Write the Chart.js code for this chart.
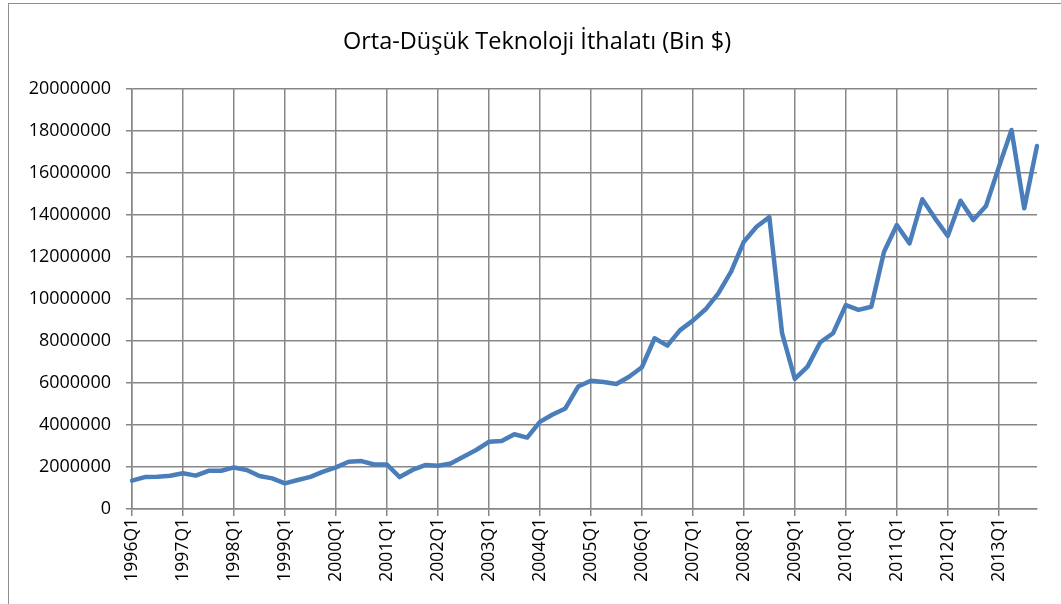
<!DOCTYPE html>
<html>
<head>
<meta charset="utf-8">
<script src="https://cdn.jsdelivr.net/npm/chart.js@4/dist/chart.umd.min.js"></script>
<style>
  html, body { margin: 0; padding: 0; background: #fff; }
  #wrap { position: relative; width: 1061px; height: 604px; overflow: hidden; }
  #frame { position: absolute; left: 8px; top: 3px; width: 1200px; height: 700px; border: 1px solid #8e8e8e; box-sizing: border-box; }
  canvas { position: absolute; left: 0; top: 0; }
</style>
</head>
<body>
<div id="wrap">
  <div id="frame"></div>
  <canvas id="c" width="1061" height="604"></canvas>
</div>
<script>
const years = [1996,1997,1998,1999,2000,2001,2002,2003,2004,2005,2006,2007,2008,2009,2010,2011,2012,2013];
const quarters = ['Q1','Q2','Q3','Q4'];
const categories = [];
years.forEach(y => quarters.forEach(q => categories.push(y + q)));

const imports = [
  1350000, 1520000, 1540000, 1580000,
  1700000, 1590000, 1820000, 1820000,
  1980000, 1860000, 1570000, 1460000,
  1220000, 1380000, 1530000, 1780000,
  1980000, 2250000, 2280000, 2120000,
  2120000, 1520000, 1860000, 2090000,
  2060000, 2170000, 2490000, 2810000,
  3200000, 3240000, 3560000, 3400000,
  4150000, 4500000, 4790000, 5830000,
  6110000, 6050000, 5950000, 6300000,
  6750000, 8130000, 7780000, 8520000,
  8970000, 9510000, 10270000, 11300000,
  12730000, 13440000, 13900000, 8370000,
  6200000, 6780000, 7940000, 8370000,
  9710000, 9480000, 9630000, 12250000,
  13520000, 12650000, 14750000, 13840000,
  13000000, 14680000, 13760000, 14430000,
  16270000, 18050000, 14320000, 17290000
];

const yTicks = [0,2000000,4000000,6000000,8000000,10000000,12000000,14000000,16000000,18000000,20000000];
const titleText = 'Orta-Düşük Teknoloji İthalatı (Bin $)';

const gridGray = '#878787';
const FONT = "'Open Sans', 'Liberation Sans', sans-serif";

const centeredTitle = {
  id: 'centeredTitle',
  afterDraw(chart, args, opts) {
    const ctx = chart.ctx;
    ctx.save();
    ctx.font = '23.5px ' + FONT;
    ctx.fillStyle = '#000';
    ctx.textAlign = 'center';
    ctx.textBaseline = 'middle';
    ctx.fillText(opts.text, opts.x, opts.y);
    ctx.restore();
  }
};

new Chart(document.getElementById('c'), {
  type: 'line',
  data: {
    labels: categories,
    datasets: [{
      data: imports,
      borderColor: '#4a7ebb',
      borderWidth: 4.5,
      pointRadius: 0,
      tension: 0,
      fill: false,
      borderJoinStyle: 'round',
      borderCapStyle: 'round'
    }]
  },
  plugins: [centeredTitle],
  options: {
    responsive: false,
    animation: false,
    layout: { padding: { left: 0, right: 24, top: 89, bottom: 0 } },
    plugins: {
      legend: { display: false },
      tooltip: { enabled: false },
      title: { display: false },
      centeredTitle: { text: titleText, x: 537, y: 42 }
    },
    scales: {
      x: {
        type: 'category',
        offset: false,
        grid: {
          display: true,
          drawOnChartArea: true,
          drawTicks: true,
          tickLength: 7,
          color: ctx => (ctx.index % 4 === 0 ? gridGray : 'rgba(0,0,0,0)'),
          lineWidth: 1.5
        },
        border: { display: true, color: gridGray, width: 1.5 },
        ticks: {
          autoSkip: false,
          maxRotation: 90,
          minRotation: 90,
          padding: 2,
          color: '#000',
          font: { family: FONT, size: 17.5 },
          callback: function(value, index) {
            return index % 4 === 0 ? categories[index] : '';
          }
        },
        afterFit: s => { s.height = 95; }
      },
      y: {
        min: 0,
        max: 20000000,
        afterBuildTicks: s => { s.ticks = yTicks.map(v => ({ value: v })); },
        grid: {
          color: gridGray,
          lineWidth: 1.5,
          tickLength: 6
        },
        border: { display: true, color: gridGray, width: 1.5 },
        ticks: {
          color: '#000',
          padding: 15,
          font: { family: FONT, size: 18 },
          callback: v => String(v)
        },
        afterFit: s => { s.width = 132; }
      }
    }
  }
});
</script>
</body>
</html>
